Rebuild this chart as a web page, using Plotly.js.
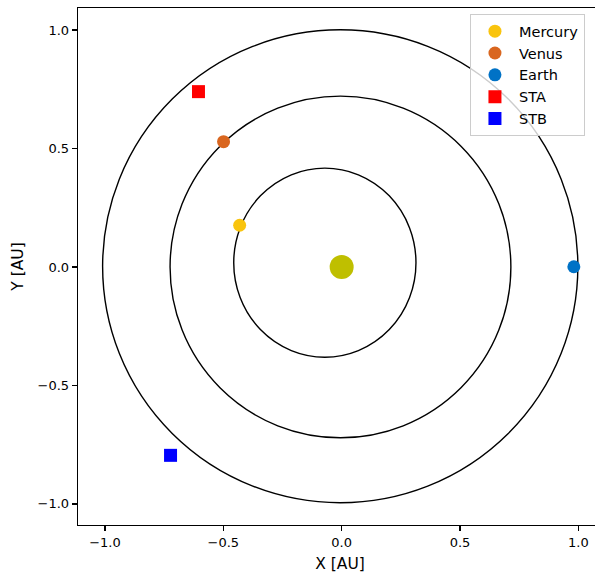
<!DOCTYPE html>
<html>
<head>
<meta charset="utf-8">
<script src="https://cdn.plot.ly/plotly-3.0.1.min.js"></script>
<style>
html,body{margin:0;padding:0;overflow:hidden;background:#fff;}
#plot{width:620px;height:574px;}
</style>
</head>
<body>
<div id="plot"></div>
<script>
// Bodies
const bodyNames  = ['Mercury', 'Venus', 'Earth', 'STA', 'STB'];
const bodyX      = [-0.431, -0.499, 0.981, -0.605, -0.723];
const bodyY      = [0.176, 0.529, 0.001, 0.740, -0.795];
const bodyColors = ['#f9c40e', '#d9661f', '#0072c6', '#ff0000', '#0000ff'];
const bodySymbols = ['circle', 'circle', 'circle', 'square', 'square'];

// Sun
const sunX = [0.0];
const sunY = [0.0];

// Orbits (ellipses): centre x, centre y, semi-axis x, semi-axis y
const orbitCx = [-0.071, -0.005, -0.006];
const orbitCy = [0.018, 0.000, 0.003];
const orbitRx = [0.385, 0.720, 1.004];
const orbitRy = [0.399, 0.721, 0.998];

// Axes
const tickVals = [-1.0, -0.5, 0.0, 0.5, 1.0];

const traces = [];
traces.push({
  x: sunX, y: sunY, type: 'scatter', mode: 'markers', showlegend: false,
  marker: {color: 'rgb(191,191,0)', size: 24, line: {width: 0}}, hoverinfo: 'skip'
});
for (let i = 0; i < bodyNames.length; i++) {
  traces.push({
    x: [bodyX[i]], y: [bodyY[i]], type: 'scatter', mode: 'markers', name: bodyNames[i],
    marker: {color: bodyColors[i], size: 13, symbol: bodySymbols[i], line: {width: 0}}
  });
}

const shapes = orbitCx.map((cx, i) => ({
  type: 'circle', xref: 'x', yref: 'y',
  x0: cx - orbitRx[i], x1: cx + orbitRx[i],
  y0: orbitCy[i] - orbitRy[i], y1: orbitCy[i] + orbitRy[i],
  line: {color: 'black', width: 1.4}, layer: 'below'
}));

const font = {family: 'DejaVu Sans', size: 13, color: 'black'};
const axisCommon = {
  showgrid: false, zeroline: false, showline: true, linecolor: 'black', linewidth: 1.25,
  mirror: true, ticks: 'outside', ticklen: 5, tickwidth: 1.25, tickcolor: 'black',
  tickvals: tickVals, tickformat: '.1f', tickfont: font
};

const layout = {
  width: 620, height: 574,
  margin: {l: 78, r: 18, t: 8, b: 49},
  paper_bgcolor: 'white', plot_bgcolor: 'white',
  font: font,
  xaxis: Object.assign({}, axisCommon, {range: [-1.114, 1.1],
    title: {text: 'X [AU]', font: {family: 'DejaVu Sans', size: 15.5}, standoff: 9}}),
  yaxis: Object.assign({}, axisCommon, {range: [-1.089, 1.093],
    title: {text: 'Y [AU]', font: {family: 'DejaVu Sans', size: 15.5}, standoff: 10}}),
  shapes: shapes,
  showlegend: true,
  legend: {
    x: 0.748, y: 0.988, xanchor: 'left', yanchor: 'top',
    bordercolor: '#cccccc', borderwidth: 1, bgcolor: 'rgba(255,255,255,0.8)',
    font: {family: 'DejaVu Sans', size: 14.5, color: 'black'},
    itemwidth: 38,
    tracegroupgap: 0
  }
};

Plotly.newPlot('plot', traces, layout, {displayModeBar: false, staticPlot: true});
</script>
</body>
</html>
